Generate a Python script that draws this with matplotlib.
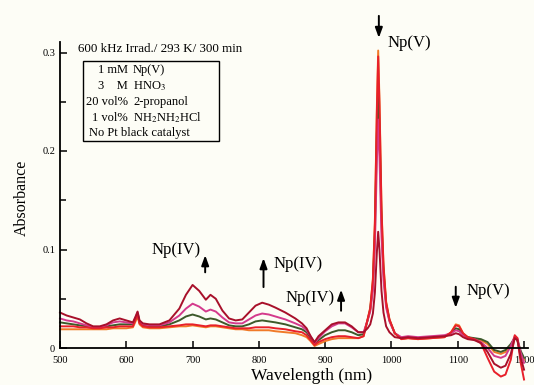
import matplotlib
matplotlib.use("Agg")
import matplotlib.pyplot as plt
from matplotlib.patches import Rectangle

plt.rcParams['font.family'] = ['Liberation Serif', 'DejaVu Serif']
plt.rcParams['mathtext.fontset'] = 'stix'

wavelength = [500, 510, 520, 530, 540, 550, 560, 570, 580, 590, 600, 610, 614, 617, 620, 625, 635,
              650, 665, 680, 690, 700, 710, 720, 727, 735, 745, 755, 765, 775, 785, 795, 805, 815, 825, 840, 855,
              865, 872, 878, 884, 890, 900, 910, 920, 930, 940, 950, 958,
              964, 968, 972, 975, 978, 980, 982, 985, 988, 992, 997,
              1005, 1015, 1025, 1040, 1060, 1080, 1090, 1097, 1102, 1108, 1115, 1125,
              1135, 1145, 1155, 1165, 1172, 1180, 1186, 1190, 1195, 1200]

abs_orange = [0.019, 0.019, 0.019, 0.019, 0.019, 0.019, 0.019, 0.019, 0.020, 0.020, 0.020, 0.021, 0.027, 0.032, 0.024, 0.021, 0.020,
              0.020, 0.021, 0.022, 0.022, 0.023, 0.022, 0.021, 0.022, 0.022, 0.021, 0.020, 0.019, 0.019, 0.018, 0.018, 0.018, 0.018, 0.017, 0.016, 0.015,
              0.013, 0.011, 0.007, 0.002, 0.004, 0.007, 0.009, 0.010, 0.010, 0.010, 0.010, 0.012,
              0.029, 0.041, 0.070, 0.128, 0.244, 0.302, 0.250, 0.143, 0.085, 0.047, 0.029,
              0.015, 0.009, 0.010, 0.009, 0.010, 0.011, 0.016, 0.024, 0.023, 0.015, 0.011, 0.009,
              0.008, 0.004, -0.004, -0.006, -0.004, 0.003, 0.011, 0.008, -0.005, -0.012]

abs_red = [0.022, 0.022, 0.022, 0.021, 0.021, 0.020, 0.020, 0.021, 0.021, 0.022, 0.022, 0.022, 0.029, 0.034, 0.025, 0.022, 0.021,
           0.021, 0.022, 0.023, 0.024, 0.024, 0.023, 0.022, 0.023, 0.023, 0.022, 0.021, 0.020, 0.020, 0.020, 0.021, 0.021, 0.021, 0.020, 0.019, 0.017,
           0.016, 0.013, 0.008, 0.003, 0.006, 0.009, 0.011, 0.012, 0.012, 0.011, 0.010, 0.012,
           0.029, 0.040, 0.069, 0.126, 0.239, 0.296, 0.245, 0.140, 0.083, 0.046, 0.029,
           0.015, 0.009, 0.010, 0.009, 0.010, 0.011, 0.016, 0.023, 0.022, 0.015, 0.011, 0.009,
           0.005, -0.010, -0.024, -0.029, -0.027, -0.012, 0.013, 0.010, -0.015, -0.032]

abs_green = [0.026, 0.025, 0.024, 0.023, 0.022, 0.021, 0.021, 0.022, 0.023, 0.024, 0.024, 0.024, 0.030, 0.035, 0.026, 0.023, 0.022,
             0.022, 0.024, 0.028, 0.032, 0.034, 0.032, 0.029, 0.030, 0.029, 0.026, 0.023, 0.022, 0.022, 0.024, 0.027, 0.028, 0.027, 0.026, 0.024, 0.021,
             0.019, 0.016, 0.010, 0.004, 0.008, 0.013, 0.016, 0.018, 0.018, 0.016, 0.013, 0.014,
             0.028, 0.039, 0.064, 0.115, 0.217, 0.268, 0.222, 0.128, 0.077, 0.044, 0.028,
             0.015, 0.010, 0.011, 0.010, 0.011, 0.012, 0.015, 0.020, 0.019, 0.014, 0.011, 0.010,
             0.009, 0.006, -0.002, -0.004, -0.002, 0.004, 0.010, 0.008, -0.003, -0.010]

abs_magenta = [0.030, 0.028, 0.027, 0.025, 0.023, 0.021, 0.021, 0.023, 0.026, 0.027, 0.026, 0.025, 0.031, 0.036, 0.027, 0.024, 0.023,
               0.023, 0.026, 0.033, 0.040, 0.045, 0.042, 0.037, 0.039, 0.037, 0.031, 0.026, 0.025, 0.025, 0.029, 0.033, 0.035, 0.034, 0.032, 0.029, 0.025,
               0.022, 0.018, 0.012, 0.005, 0.010, 0.017, 0.022, 0.025, 0.025, 0.021, 0.016, 0.016,
               0.028, 0.037, 0.058, 0.102, 0.189, 0.232, 0.193, 0.113, 0.069, 0.041, 0.027,
               0.015, 0.011, 0.012, 0.011, 0.012, 0.013, 0.015, 0.018, 0.017, 0.013, 0.010, 0.009,
               0.006, 0.000, -0.008, -0.010, -0.008, 0.002, 0.012, 0.010, -0.005, -0.015]

abs_darkred = [0.036, 0.033, 0.031, 0.029, 0.025, 0.022, 0.022, 0.024, 0.028, 0.030, 0.028, 0.026, 0.032, 0.037, 0.028, 0.025, 0.024,
               0.024, 0.028, 0.040, 0.054, 0.064, 0.058, 0.049, 0.054, 0.050, 0.038, 0.030, 0.028, 0.029, 0.036, 0.043, 0.046, 0.044, 0.041, 0.036, 0.030,
               0.025, 0.020, 0.012, 0.006, 0.012, 0.018, 0.024, 0.026, 0.026, 0.022, 0.016, 0.016,
               0.020, 0.024, 0.035, 0.056, 0.097, 0.118, 0.099, 0.058, 0.036, 0.022, 0.016,
               0.011, 0.010, 0.011, 0.010, 0.011, 0.012, 0.013, 0.015, 0.014, 0.011, 0.009, 0.008,
               0.005, -0.004, -0.016, -0.020, -0.018, -0.006, 0.010, 0.008, -0.010, -0.022]

series = [
    (abs_orange, '#f07a28'),
    (abs_green, '#3d5a2a'),
    (abs_magenta, '#d43a8c'),
    (abs_red, '#e8202a'),
    (abs_darkred, '#a8102a'),
]

W, H = 534, 385
fig = plt.figure(figsize=(W / 100, H / 100), dpi=100, facecolor='#fdfdf6')

def fx(x):
    return x / W

def fy(y):
    return 1 - y / H

ymin, ymax = -0.035, 0.311
ax_left, ax_right = 60, 528
ax_bottom = 348 + (0 - ymin) * 985
ax_top = 348 - ymax * 985
ax = fig.add_axes([fx(ax_left), fy(ax_bottom), fx(ax_right) - fx(ax_left), fy(ax_top) - fy(ax_bottom)])
ax.set_facecolor('none')

for vals, col in series:
    ax.plot(wavelength, vals, color=col, lw=1.4, clip_on=False)

ax.set_xlim(500, 1206)
ax.set_ylim(ymin, ymax)
ax.spines['top'].set_visible(False)
ax.spines['right'].set_visible(False)
ax.spines['bottom'].set_position(('data', 0))
ax.spines['left'].set_bounds(0, ymax)
for s in ('bottom', 'left'):
    ax.spines[s].set_linewidth(1.3)

ax.set_xticks([500, 600, 700, 800, 900, 1000, 1100, 1200])
ax.set_xticklabels(['500', '600', '700', '800', '900', '1000', '1100', '1200'])
ax.set_yticks([0, 0.1, 0.2, 0.3])
ax.set_yticklabels(['0', '0.1', '0.2', '0.3'])
ax.set_yticks([0.05, 0.15, 0.25], minor=True)
ax.tick_params(axis='both', which='both', direction='in', labelsize=7.5, width=1.1)
ax.tick_params(axis='both', which='major', length=5)
ax.tick_params(axis='both', which='minor', length=4)
ax.tick_params(axis='x', pad=6)

fig.text(fx(312), fy(376), 'Wavelength (nm)', ha='center', va='center', fontsize=12.5)
fig.text(fx(22), fy(198), 'Absorbance', ha='center', va='center', rotation=90, fontsize=11.5)

fig.text(fx(78), fy(49), '600 kHz Irrad./ 293 K/ 300 min', ha='left', va='center', fontsize=9.4)
fig.patches.append(Rectangle((fx(83), fy(141)), fx(219) - fx(83), fy(61) - fy(141),
                             transform=fig.transFigure, fill=False, edgecolor='black', lw=1.0))
left_col = ['1 mM', '3    M', '20 vol%', '1 vol%']
right_col = ['Np(V)', 'HNO$_3$', '2-propanol', 'NH$_2$NH$_2$HCl']
rows_y = [70, 86, 102, 118]
for lt, rt, yy in zip(left_col, right_col, rows_y):
    fig.text(fx(128), fy(yy), lt, ha='right', va='center', fontsize=9.0)
    fig.text(fx(133), fy(yy), rt, ha='left', va='center', fontsize=9.0)
fig.text(fx(89), fy(133), 'No Pt black catalyst', ha='left', va='center', fontsize=9.0)

arrow_kw = dict(arrowstyle='-|>,head_length=0.6,head_width=0.22', color='black', lw=1.4)
# Np(V) top
ax.annotate('', xy=(981, 0.312), xytext=(981, 0.340), arrowprops=arrow_kw, annotation_clip=False)
fig.text(fx(388), fy(43), 'Np(V)', ha='left', va='center', fontsize=12)
# Np(IV) 700
ax.annotate('', xy=(719, 0.097), xytext=(719, 0.074), arrowprops=arrow_kw)
fig.text(fx(176), fy(250), 'Np(IV)', ha='center', va='center', fontsize=12)
# Np(IV) 800
ax.annotate('', xy=(807, 0.094), xytext=(807, 0.059), arrowprops=arrow_kw)
fig.text(fx(298), fy(264), 'Np(IV)', ha='center', va='center', fontsize=12)
# Np(IV) 920
ax.annotate('', xy=(924, 0.062), xytext=(924, 0.035), arrowprops=arrow_kw)
fig.text(fx(310), fy(298), 'Np(IV)', ha='center', va='center', fontsize=12)
# Np(V) 1100
ax.annotate('', xy=(1097, 0.038), xytext=(1097, 0.065), arrowprops=arrow_kw)
fig.text(fx(488), fy(291), 'Np(V)', ha='center', va='center', fontsize=12)

fig.savefig('out.png', dpi=100, facecolor=fig.get_facecolor())
